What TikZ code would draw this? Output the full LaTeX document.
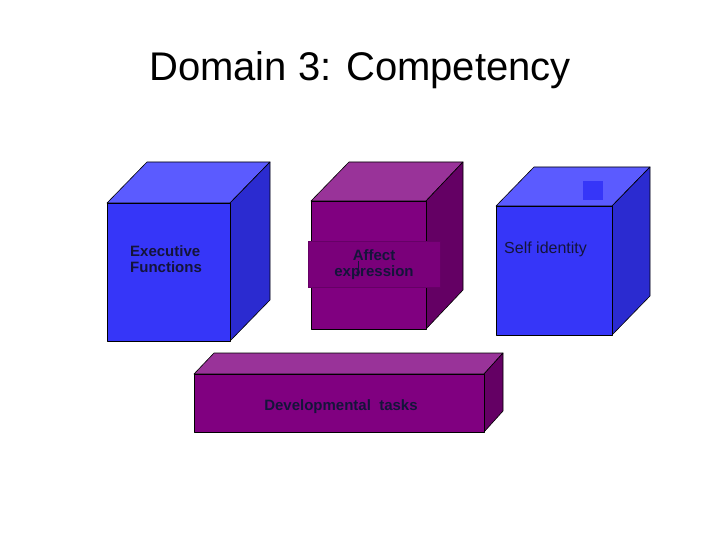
\documentclass[tikz,border=0pt]{standalone}
\usepackage{fontspec}
\setmainfont{Liberation Sans}
\definecolor{bF}{HTML}{3636F8}
\definecolor{bT}{HTML}{5B5BFF}
\definecolor{bS}{HTML}{2B2BD0}
\definecolor{pF}{HTML}{800080}
\definecolor{pT}{HTML}{993399}
\definecolor{pS}{HTML}{640064}
\definecolor{txt}{HTML}{14143A}
\tikzset{face/.style={draw=black,line width=0.6pt,line join=round},
lbl/.style={font=\bfseries\fontsize{15}{17}\selectfont,text=txt,align=left,inner sep=0pt}}
\begin{document}
\begin{tikzpicture}[x=1pt,y=-1pt]
\useasboundingbox[fill=white] (0,0) rectangle (720,540);
\node (title) at (360,70) {\fontsize{40}{46}\selectfont Domain 3: Competency};
% cube 1
\draw[face,fill=bT] (107,203)--(147,162)--(270,162)--(230,203)--cycle;
\draw[face,fill=bS] (230,203)--(270,162)--(270,300)--(230,341)--cycle;
\draw[face,fill=bF] (107,203) rectangle (230,341);
\node[lbl,anchor=north west] (ef) at (130,245) {Executive\\[-1pt]Functions};
% cube 2
\draw[face,fill=pT] (311,201)--(349,162)--(463,162)--(426,201)--cycle;
\draw[face,fill=pS] (426,201)--(463,162)--(463,290)--(426,329)--cycle;
\draw[face,fill=pF] (311,201) rectangle (426,329);
\fill[pF!95!black,draw=pF!80!black,line width=0.3pt] (308,241) rectangle (440,287);
\node[lbl,align=center] (ae) at (374,265) {Affect\\[-1pt]expression};
\coordinate (a1) at (358,261);
\coordinate (a2) at (358,277);
\draw[-latex,line width=0.9pt,txt] (a1)--(a2);
% cube 3
\draw[face,fill=bT] (496,206)--(534,167)--(650,167)--(612,206)--cycle;
\draw[face,fill=bS] (612,206)--(650,167)--(650,296)--(612,335)--cycle;
\draw[face,fill=bF] (496,206) rectangle (612,335);
\fill[bF] (583,181) rectangle (603,200);
\node[font=\fontsize{16}{18}\selectfont,text=txt,anchor=west,inner sep=0pt] (si) at (504,249) {Self identity};
% bar
\draw[face,fill=pT] (194,374)--(214,353)--(503,353)--(484,374)--cycle;
\draw[face,fill=pS] (484,374)--(503,353)--(503,411)--(484,432)--cycle;
\draw[face,fill=pF] (194,374) rectangle (484,432);
\node[lbl] (dt) at (341,407) {Developmental\ \ tasks};
\end{tikzpicture}
\end{document}
